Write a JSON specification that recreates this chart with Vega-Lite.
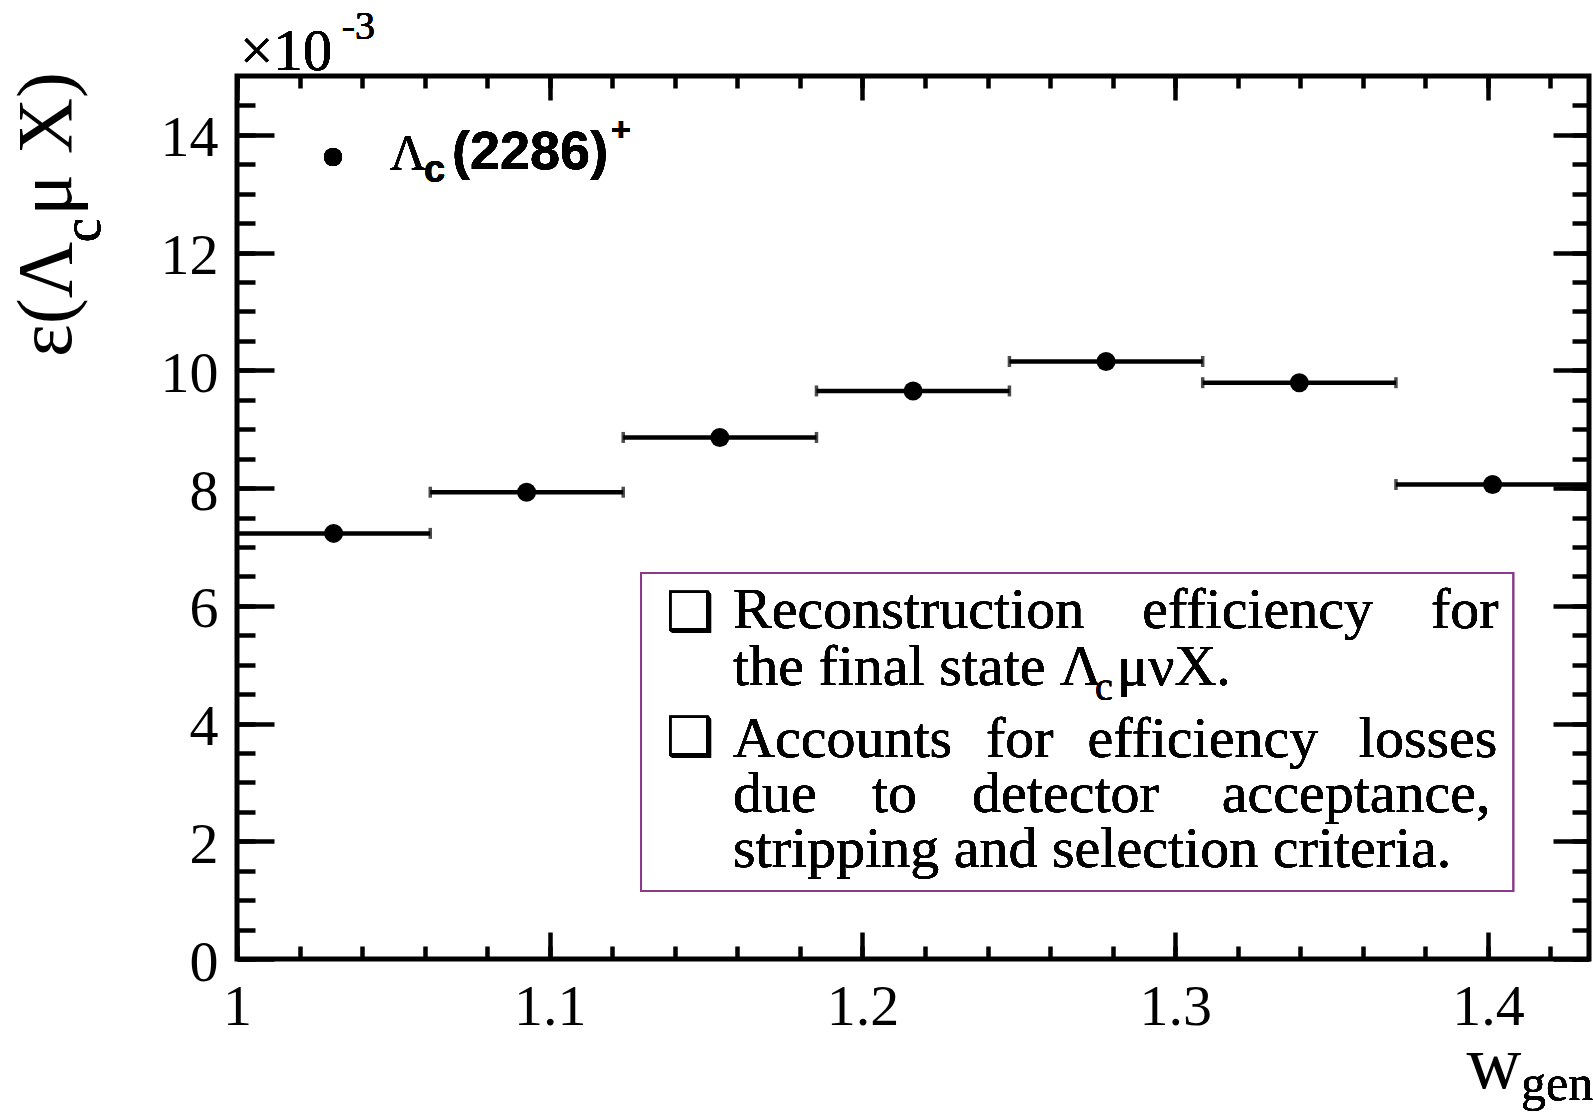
{
  "$schema": "https://vega.github.io/schema/vega-lite/v6.json",
  "width": 1352,
  "height": 883,
  "autosize": {"type": "none"},
  "padding": {"left": 237, "top": 76, "right": 4, "bottom": 156},
  "background": "white",
  "config": {
    "view": {"stroke": "black", "strokeWidth": 5},
    "axis": {
      "grid": false,
      "domain": false,
      "tickColor": "black",
      "tickWidth": 4.5,
      "labelColor": "black",
      "labelFont": "Liberation Serif",
      "labelFontSize": 58,
      "titleColor": "black",
      "labelFlush": false,
      "labelOverlap": false
    }
  },
  "data": {
    "values": [
      {"lo": 1.0000, "hi": 1.0618, "w": 1.0309, "eff": 7.23},
      {"lo": 1.0618, "hi": 1.1235, "w": 1.0926, "eff": 7.93},
      {"lo": 1.1235, "hi": 1.1853, "w": 1.1544, "eff": 8.86},
      {"lo": 1.1853, "hi": 1.2470, "w": 1.2162, "eff": 9.65},
      {"lo": 1.2470, "hi": 1.3088, "w": 1.2779, "eff": 10.15},
      {"lo": 1.3088, "hi": 1.3706, "w": 1.3397, "eff": 9.79},
      {"lo": 1.3706, "hi": 1.4323, "w": 1.4015, "eff": 8.06}
    ]
  },
  "resolve": {"axis": {"x": "independent", "y": "independent"}},
  "layer": [
    {
      "mark": {"type": "rule", "color": "black", "strokeWidth": 4.5},
      "encoding": {
        "x": {
          "field": "lo", "type": "quantitative",
          "scale": {"domain": [1, 1.43233], "nice": false, "zero": false},
          "axis": {
            "orient": "bottom", "values": [1, 1.1, 1.2, 1.3, 1.4], "format": "~g",
            "tickSize": -27, "labelPadding": 92, "labelBaseline": "alphabetic",
            "title": "w", "titleFont": "Liberation Serif", "titleFontSize": 76,
            "titleFontWeight": "normal", "titleAlign": "right", "titleBaseline": "alphabetic",
            "titleX": 1284, "titleY": 128
          }
        },
        "x2": {"field": "hi"},
        "y": {
          "field": "eff", "type": "quantitative",
          "scale": {"domain": [0, 15], "nice": false, "zero": false},
          "axis": {
            "orient": "left", "values": [0, 2, 4, 6, 8, 10, 12, 14], "format": "d",
            "tickSize": -37, "labelPadding": 56, "labelOffset": 4,
            "title": "ε(Λ\u00a0\u200aμ X)", "titleFont": "Liberation Serif", "titleFontSize": 78,
            "titleFontWeight": "normal", "titleAngle": -90, "titleAlign": "center",
            "titleBaseline": "alphabetic", "titleX": -167, "titleY": 138
          }
        }
      }
    },
    {
      "mark": {"type": "tick", "orient": "vertical", "color": "black", "size": 11, "thickness": 3.5},
      "encoding": {
        "x": {
          "field": "lo", "type": "quantitative",
          "scale": {"domain": [1, 1.43233], "nice": false, "zero": false},
          "axis": {
            "orient": "bottom", "labels": false, "tickSize": -13, "title": null,
            "values": [1, 1.02, 1.04, 1.06, 1.08, 1.1, 1.12, 1.14, 1.16, 1.18, 1.2, 1.22, 1.24, 1.26, 1.28, 1.3, 1.32, 1.34, 1.36, 1.38, 1.4, 1.42]
          }
        },
        "y": {
          "field": "eff", "type": "quantitative",
          "scale": {"domain": [0, 15], "nice": false, "zero": false},
          "axis": {
            "orient": "left", "labels": false, "tickSize": -18, "title": null,
            "values": [0, 0.5, 1, 1.5, 2, 2.5, 3, 3.5, 4, 4.5, 5, 5.5, 6, 6.5, 7, 7.5, 8, 8.5, 9, 9.5, 10, 10.5, 11, 11.5, 12, 12.5, 13, 13.5, 14, 14.5]
          }
        }
      }
    },
    {
      "mark": {"type": "tick", "orient": "vertical", "color": "black", "size": 11, "thickness": 3.5},
      "encoding": {
        "x": {
          "field": "hi", "type": "quantitative",
          "scale": {"domain": [1, 1.43233], "nice": false, "zero": false},
          "axis": {"orient": "top", "labels": false, "tickSize": -24, "title": null, "values": [1, 1.1, 1.2, 1.3, 1.4]}
        },
        "y": {
          "field": "eff", "type": "quantitative",
          "scale": {"domain": [0, 15], "nice": false, "zero": false},
          "axis": {"orient": "right", "labels": false, "tickSize": -36, "title": null, "values": [0, 2, 4, 6, 8, 10, 12, 14]}
        }
      }
    },
    {
      "mark": {"type": "point", "filled": true, "color": "black", "opacity": 1, "size": 360},
      "encoding": {
        "x": {
          "field": "w", "type": "quantitative",
          "scale": {"domain": [1, 1.43233], "nice": false, "zero": false},
          "axis": {
            "orient": "top", "labels": false, "tickSize": -12, "title": null,
            "values": [1, 1.02, 1.04, 1.06, 1.08, 1.1, 1.12, 1.14, 1.16, 1.18, 1.2, 1.22, 1.24, 1.26, 1.28, 1.3, 1.32, 1.34, 1.36, 1.38, 1.4, 1.42]
          }
        },
        "y": {
          "field": "eff", "type": "quantitative",
          "scale": {"domain": [0, 15], "nice": false, "zero": false},
          "axis": {
            "orient": "right", "labels": false, "tickSize": -17, "title": null,
            "values": [0, 0.5, 1, 1.5, 2, 2.5, 3, 3.5, 4, 4.5, 5, 5.5, 6, 6.5, 7, 7.5, 8, 8.5, 9, 9.5, 10, 10.5, 11, 11.5, 12, 12.5, 13, 13.5, 14, 14.5]
          }
        }
      }
    },
    {
      "mark": {"type": "text", "text": "×10", "font": "Liberation Serif", "fontSize": 59, "align": "left", "baseline": "alphabetic", "color": "black"},
      "encoding": {"x": {"datum": 1.00096, "axis": null}, "y": {"datum": 15.102, "axis": null}}
    },
    {
      "mark": {"type": "text", "text": "-3", "font": "Liberation Serif", "fontSize": 40, "align": "left", "baseline": "alphabetic", "color": "black"},
      "encoding": {"x": {"datum": 1.0335, "axis": null}, "y": {"datum": 15.628, "axis": null}}
    },
    {
      "mark": {"type": "text", "text": "gen", "font": "Liberation Serif", "fontSize": 50, "align": "left", "baseline": "alphabetic", "color": "black"},
      "encoding": {"x": {"datum": 1.41062, "axis": null}, "y": {"datum": -2.395, "axis": null}}
    },
    {
      "mark": {"type": "text", "text": "c", "font": "Liberation Serif", "fontSize": 54, "align": "center", "baseline": "alphabetic", "angle": 270, "color": "black"},
      "encoding": {"x": {"datum": 0.95619, "axis": null}, "y": {"datum": 12.38, "axis": null}}
    },
    {
      "mark": {"type": "point", "filled": true, "color": "black", "opacity": 1, "size": 330},
      "encoding": {"x": {"datum": 1.0307, "axis": null}, "y": {"datum": 13.624, "axis": null}}
    },
    {
      "mark": {"type": "text", "text": "Λ", "font": "Liberation Serif", "fontSize": 50, "align": "left", "baseline": "alphabetic", "color": "black"},
      "encoding": {"x": {"datum": 1.04893, "axis": null}, "y": {"datum": 13.42, "axis": null}}
    },
    {
      "mark": {"type": "text", "text": "c", "font": "Liberation Sans", "fontWeight": "bold", "fontSize": 38, "align": "left", "baseline": "alphabetic", "color": "black"},
      "encoding": {"x": {"datum": 1.05980, "axis": null}, "y": {"datum": 13.197, "axis": null}}
    },
    {
      "mark": {"type": "text", "text": "(2286)", "font": "Liberation Sans", "fontWeight": "bold", "fontSize": 54, "align": "left", "baseline": "alphabetic", "color": "black"},
      "encoding": {"x": {"datum": 1.06876, "axis": null}, "y": {"datum": 13.42, "axis": null}}
    },
    {
      "mark": {"type": "text", "text": "+", "font": "Liberation Sans", "fontWeight": "bold", "fontSize": 34, "align": "left", "baseline": "alphabetic", "color": "black"},
      "encoding": {"x": {"datum": 1.1196, "axis": null}, "y": {"datum": 13.90, "axis": null}}
    },
    {
      "mark": {"type": "rect", "fill": "white", "stroke": "#8b3a8b", "strokeWidth": 2},
      "encoding": {
        "x": {"datum": 1.1292, "axis": null}, "x2": {"datum": 1.40806},
        "y": {"datum": 6.557, "axis": null}, "y2": {"datum": 1.155}
      }
    },
    {
      "mark": {"type": "text", "text": "❑", "font": "DejaVu Sans", "fontSize": 54, "align": "left", "baseline": "alphabetic", "color": "black"},
      "encoding": {"x": {"datum": 1.13719, "axis": null}, "y": {"datum": 5.589, "axis": null}}
    },
    {
      "mark": {"type": "text", "text": "❑", "font": "DejaVu Sans", "fontSize": 54, "align": "left", "baseline": "alphabetic", "color": "black"},
      "encoding": {"x": {"datum": 1.13719, "axis": null}, "y": {"datum": 3.465, "axis": null}}
    },
    {
      "mark": {"type": "text", "text": "Reconstruction\u00a0\u00a0\u00a0\u00a0efficiency\u00a0\u00a0\u00a0\u00a0for", "font": "Liberation Serif", "fontSize": 58, "align": "left", "baseline": "alphabetic", "color": "black"},
      "encoding": {"x": {"datum": 1.15862, "axis": null}, "y": {"datum": 5.623, "axis": null}}
    },
    {
      "mark": {"type": "text", "text": "the final state Λ", "font": "Liberation Serif", "fontSize": 58, "align": "left", "baseline": "alphabetic", "color": "black"},
      "encoding": {"x": {"datum": 1.15862, "axis": null}, "y": {"datum": 4.655, "axis": null}}
    },
    {
      "mark": {"type": "text", "text": "c", "font": "Liberation Serif", "fontSize": 40, "align": "left", "baseline": "alphabetic", "color": "black"},
      "encoding": {"x": {"datum": 1.27438, "axis": null}, "y": {"datum": 4.4, "axis": null}}
    },
    {
      "mark": {"type": "text", "text": "μνX.", "font": "Liberation Serif", "fontSize": 58, "align": "left", "baseline": "alphabetic", "color": "black"},
      "encoding": {"x": {"datum": 1.28142, "axis": null}, "y": {"datum": 4.655, "axis": null}}
    },
    {
      "mark": {
        "type": "text",
        "text": [
          "Accounts\u00a0\u00a0\u200afor\u00a0\u00a0\u200aefficiency\u00a0\u00a0\u2009losses",
          "due\u00a0\u00a0\u00a0\u2009to\u00a0\u00a0\u00a0\u2009detector\u00a0\u00a0\u00a0\u00a0\u200aacceptance,",
          "stripping and selection criteria."
        ],
        "lineHeight": 55,
        "font": "Liberation Serif", "fontSize": 58, "align": "left", "baseline": "alphabetic", "color": "black"
      },
      "encoding": {"x": {"datum": 1.15862, "axis": null}, "y": {"datum": 3.431, "axis": null}}
    }
  ]
}
